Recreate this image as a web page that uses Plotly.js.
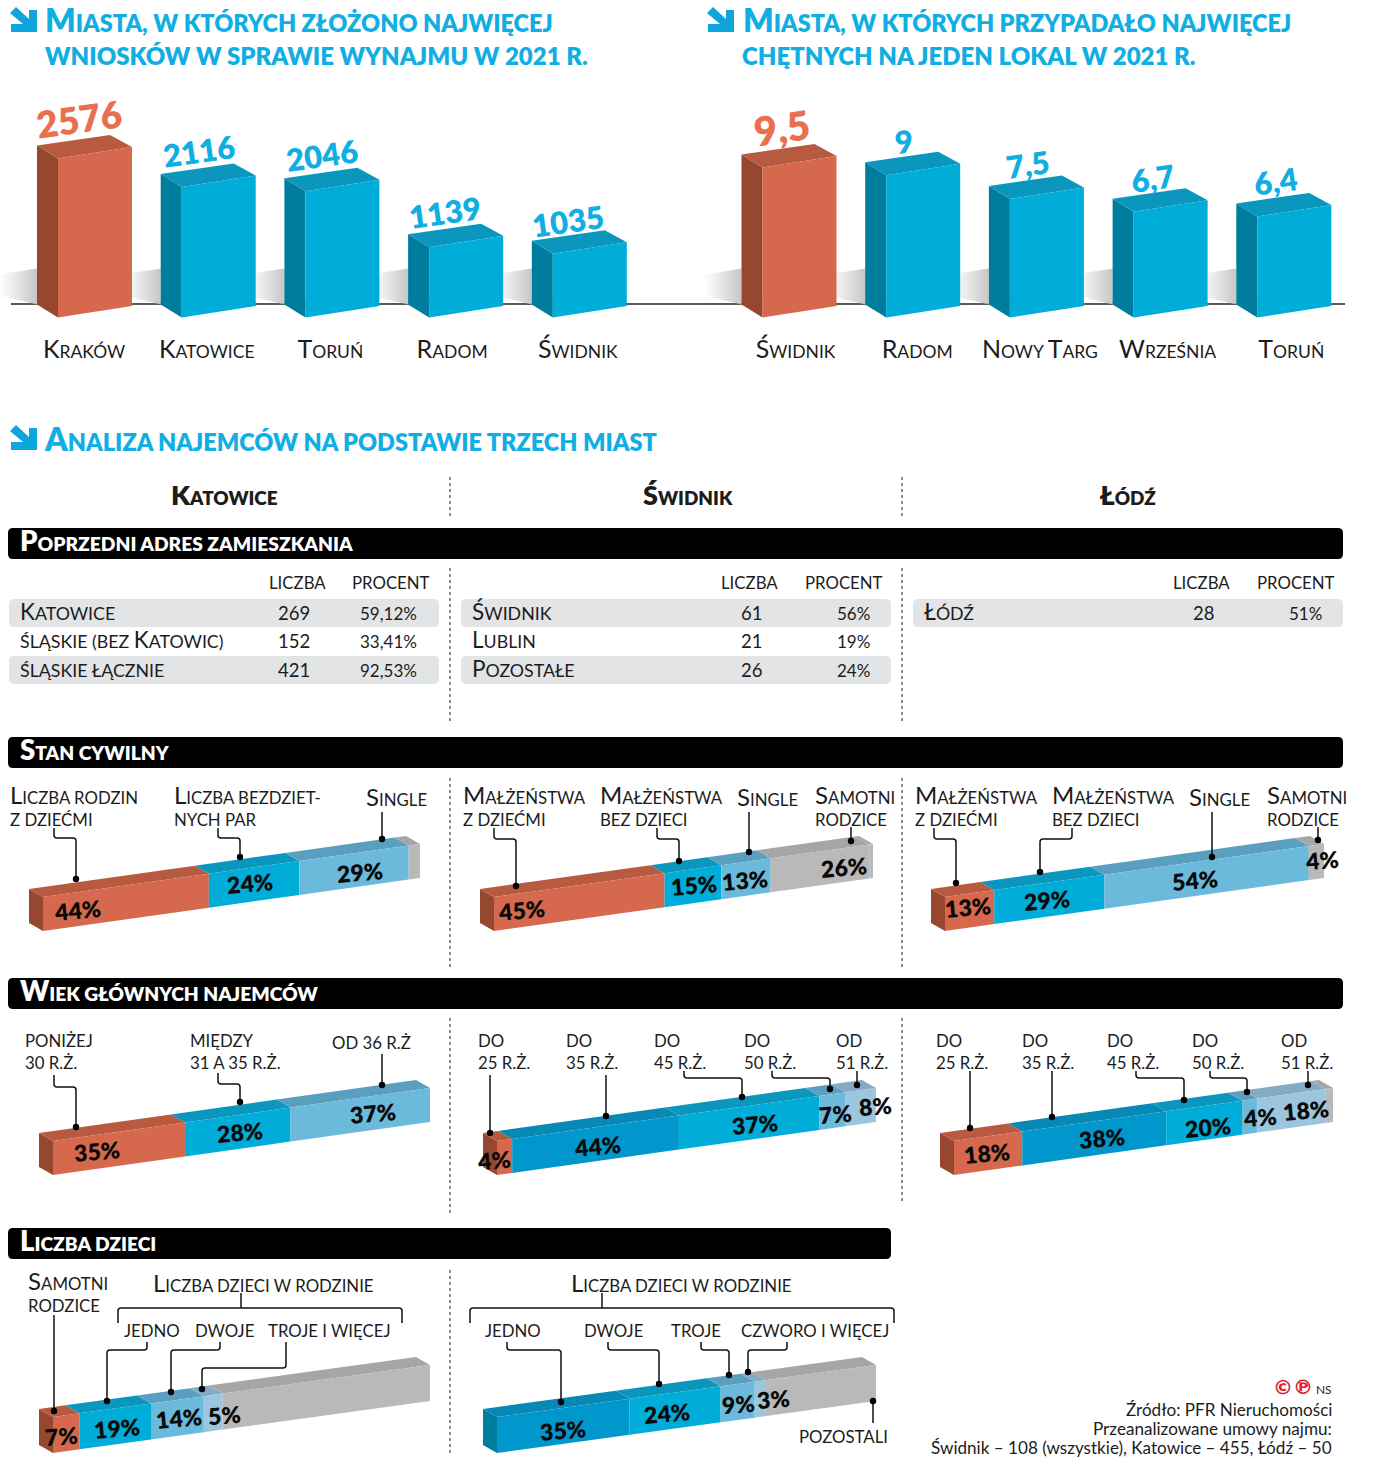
<!DOCTYPE html>
<html><head><meta charset="utf-8">
<script src="https://cdn.plot.ly/plotly-3.0.1.min.js"></script>
<style>html,body{margin:0;padding:0;background:#fff}</style></head>
<body><div id="chart" style="width:1400px;height:1475px"></div>
<script>
// ---------- DATA ----------
const appCities = ['Kraków','Katowice','Toruń','Radom','Świdnik'];
const appValues = [2576,2116,2046,1139,1035];
const appLabels = ['2576','2116','2046','1139','1035'];
const ratioCities = ['Świdnik','Radom','Nowy Targ','Września','Toruń'];
const ratioValues = [9.5,9,7.5,6.7,6.4];
const ratioLabels = ['9,5','9','7,5','6,7','6,4'];

const tableKatowice = [['Katowice','269','59,12%'],['śląskie (bez Katowic)','152','33,41%'],['śląskie łącznie','421','92,53%']];
const tableSwidnik = [['Świdnik','61','56%'],['Lublin','21','19%'],['Pozostałe','26','24%']];
const tableLodz = [['Łódź','28','51%']];

const statusKatowice = [44,24,29];
const statusSwidnik = [45,15,13,26];
const statusLodz = [13,29,54,4];
const ageKatowice = [35,28,37];
const ageSwidnik = [4,44,37,7,8];
const ageLodz = [18,38,20,4,18];
const kidsKatowice = [7,19,14,5];
const kidsSwidnik = [35,24,9,3];

// ---------- STYLE ----------
const F='Lato, "Noto Sans", sans-serif';
const C={O:['#d6694d','#b85a40','#96472f'],B:['#00acd8','#0a96bd','#007c9c'],D:['#0098cc','#0888b4','#007c9c'],
 L:['#6cbadb','#5b9fc0','#4d8fae'],P:['#9cc6de','#84aac4','#7ea0b8'],G:['#b9b9ba','#a6a6a8','#999']};
const TXT='#1c1c1c', CYAN='#10aee3', ORANGE='#e9704f';

// capitals stay full size, the rest is set as small capitals
function sc(t,s){return t.split('\n').map(line=>Array.from(line).map(c=>
  (c!==c.toLowerCase())?`<span style="font-size:${s}px">${c}</span>`:c.toUpperCase()).join('')).join('<br>');}

const traces=[], shapes=[], ann=[];
const layout={width:1400,height:1475,margin:{l:0,r:0,t:0,b:0,pad:0},paper_bgcolor:'#fff',plot_bgcolor:'rgba(0,0,0,0)',
 showlegend:false,hovermode:false,font:{family:F,color:TXT},
 xaxis:{domain:[0,1],range:[0,1400],visible:false,fixedrange:true},
 yaxis:{domain:[0,1],range:[1475,0],visible:false,fixedrange:true}};
let axN=1;
function newAxes(xa,ya){axN++;layout['xaxis'+axN]=Object.assign({anchor:'y'+axN,fixedrange:true,type:'linear'},xa);
 layout['yaxis'+axN]=Object.assign({anchor:'x'+axN,fixedrange:true,visible:false,type:'linear'},ya);return axN;}
function poly(n,xs,ys,color,extra){traces.push(Object.assign({type:'scatter',mode:'lines',x:xs.concat(xs[0]),y:ys.concat(ys[0]),
 xaxis:'x'+n,yaxis:'y'+n,fill:'toself',fillcolor:color,line:{width:0},hoverinfo:'skip',cliponaxis:false},extra||{}));}
function T(text,x,y,o){o=o||{};const s=o.s||18,caps=o.sc;
 // a larger capital grows the text box upwards: keep the baseline where it belongs
 const oneLine=text.indexOf('\n')<0, hasCap=text!==text.toLowerCase();
 const dy=(caps&&oneLine&&hasCap)?s*0.08:0;
 const base=o.base||+(s*0.7).toFixed(2);
 ann.push({xref:'x',yref:'y',x,y:y-dy,text:caps?sc(text,s):text,showarrow:false,xanchor:o.a||'left',yanchor:'middle',borderpad:0,
 textangle:o.rot||0,font:{family:o.family||F,size:caps?base:s,color:o.c||TXT,weight:o.w||400},align:o.a||'left'});}

// ---------- 3D BAR CHARTS ----------
function barChart(vals,labels,cats,o){
 const step=123.7,pxU=o.pxU,half=37/step,dep=21/step,peak=22/step;
 const lo=-0.77,hi=4.6,x0=Math.max(0,o.cx+lo*step),x1=o.cx+hi*step;
 const pxTop=100,pxBot=339,y0=317.5;
 const n=newAxes({domain:[x0/1400,x1/1400],range:[(x0-o.cx)/step,hi],showgrid:false,zeroline:false,showline:false,ticks:'',
   tickmode:'array',tickvals:cats.map((c,i)=>i+o.tick[i]/step),ticktext:cats.map(c=>sc(c,25)),
   tickfont:{family:F,size:17.5,color:TXT,weight:400}},
   {domain:[1-pxBot/1475,1-pxTop/1475],range:[(y0-pxBot)/pxU,(y0-pxTop)/pxU]});
 const px=p=>p/pxU;
 vals.forEach((v,i)=>{
  const bl=i-half-dep;
  poly(n,[bl-38/step,bl,bl,bl-38/step],[px(43),px(49),px(13),px(22)],'rgba(0,0,0,0)',
   {fillgradient:{type:'horizontal',colorscale:[[0,'rgba(205,205,205,0)'],[1,'rgba(195,195,195,0.95)']]}});
 });
 vals.forEach((v,i)=>{
  const c=i===0?C.O:C.B,l=i-half,r=i+half;
  poly(n,[l-dep,l,l,l-dep],[px(13),0,v,v+px(13)],c[2]);
  poly(n,[l-dep,l,r,r-peak],[v+px(13),v,v+px(11.5),v+px(23.5)],c[1]);
  poly(n,[l,r,r,l],[0,px(11.5),v+px(11.5),v],c[0]);
  ann.push({xref:'x'+n,yref:'y'+n,x:i-half+17/step,y:v,yshift:o.ys[i],xshift:o.xs[i],text:labels[i],showarrow:false,textangle:-8,
   font:{family:F,weight:800,size:i===0?o.big:o.small,color:i===0?ORANGE:CYAN},xanchor:'center',yanchor:'middle'});
 });
}
barChart(appValues,appLabels,appCities,{cx:95,pxU:0.0617,big:37,small:31,tick:[-11,-12,-12,-14,-12],ys:[40,36,36,35,33],xs:[4,0,0,-1,-2]});
barChart(ratioValues,ratioLabels,ratioCities,{cx:799.5,pxU:15.8,big:40,small:31,tick:[-4,-6,-7,-3,-3],ys:[39,34,35,34,35],xs:[2,1,1,2,1]});
shapes.push({type:'line',xref:'x',yref:'y',x0:11,x1:1345,y0:304,y1:304,line:{color:'#222',width:1.5},layer:'below'});

// ---------- STACKED SLANTED BARS ----------
function stack(vals,cols,g){
 const W=g.right-g.back-14,dx=14/W*100,total=g.rise+g.t+8;
 const n=newAxes({domain:[g.back/1400,g.right/1400],range:[-dx,100],visible:false},
   {domain:[1-(g.bottom+2)/1475,1-(g.bottom-total-2)/1475],range:[-2,total+2]});
 const f=p=>g.rise*p/100;
 const edges=[];let cum=0;vals.forEach((v,i)=>{edges.push([cum,cum+v,cols[i]]);cum+=v;});
 if(cum<100)edges.push([cum,100,cols[vals.length]||'G']);
 poly(n,[0,0,-dx,-dx],[0,g.t,g.t+8,8],C[edges[0][2]][2]);
 edges.forEach(([a,b,c])=>poly(n,[a,b,b-dx,a-dx],[f(a)+g.t,f(b)+g.t,f(b)+g.t+8,f(a)+g.t+8],C[c][1]));
 edges.forEach(([a,b,c])=>poly(n,[a,b,b,a],[f(a),f(b),f(b)+g.t,f(a)+g.t],C[c][0]));
}
const ST={rise:53,t:34,bottom:931}, AG={rise:53,t:34,bottom:1175}, KD={rise:52,t:36,bottom:1453};
stack(statusKatowice,['O','B','L','G'],Object.assign({back:29,right:420},ST));
stack(statusSwidnik,['O','B','L','G'],Object.assign({back:480,right:873},ST));
stack(statusLodz,['O','B','L','G'],Object.assign({back:931,right:1324},ST));
stack(ageKatowice,['O','B','L'],Object.assign({back:39,right:430},AG));
stack(ageSwidnik,['O','D','B','L','P'],Object.assign({back:483,right:876},AG));
stack(ageLodz,['O','D','B','L','P'],Object.assign({back:940,right:1333},AG));
stack(kidsKatowice,['O','B','L','P','G'],Object.assign({back:39,right:430},KD));
stack(kidsSwidnik,['D','B','L','P','G'],Object.assign({back:483,right:876},KD));

function pct(vals,pos){vals.forEach((v,i)=>T(v+'%',pos[i][0],pos[i][1],{a:'center',s:23,w:800,c:'#0a0a0a',rot:-5}));}
pct(statusKatowice,[[77,910],[250,883],[360,872]]);
pct(statusSwidnik,[[521,910],[694,885],[745,880],[844,867]]);
pct(statusLodz,[[968,907],[1047,900],[1195,880],[1322,860]]);
pct(ageKatowice,[[97,1151],[240,1132],[373,1113]]);
pct(ageSwidnik,[[494,1160],[597,1146],[755,1124],[835,1114],[875,1106]]);
pct(ageLodz,[[987,1153],[1102,1138],[1208,1127],[1260,1117],[1306,1110]]);
pct(kidsKatowice,[[61,1436],[117,1428],[179,1418],[224,1415]]);
pct(kidsSwidnik,[[563,1430],[667,1413],[738,1404],[773,1399]]);

// ---------- CHROME ----------
function arrow(x,y){shapes.push({type:'path',xref:'x',yref:'y',layer:'above',fillcolor:'#0ea5dc',line:{width:0},
 path:`M${x+27} ${y+2} L${x+27} ${y+24} L${x+1} ${y+24} L${x+1} ${y+16} L${x+13} ${y+16} L${x} ${y+5} L${x+6} ${y-1} L${x+19} ${y+11} L${x+19} ${y+2} Z`});}
arrow(10,8);arrow(707,8);arrow(10,426);
const TS={s:32,base:23.5,w:800,c:CYAN,sc:true}, TS2={s:32,base:24,w:800,c:CYAN,sc:true};
T('Miasta, w których złożono najwięcej',44,22,TS);
T('wniosków w sprawie wynajmu w 2021 r.',44,55,TS2);
T('Miasta, w których przypadało najwięcej',742,22,TS);
T('chętnych na jeden lokal w 2021 r.',741,55,TS2);
T('Analiza najemców na podstawie trzech miast',43,441,TS);
const HS={a:'center',s:27,w:800,sc:true};
T('Katowice',224,497,HS);T('Świdnik',688,497,HS);T('Łódź',1128,497,HS);

function rrect(x0,y0,x1,y1,r,color){shapes.push({type:'path',xref:'x',yref:'y',layer:'below',fillcolor:color,line:{width:0},
 path:`M${x0+r} ${y0} L${x1-r} ${y0} Q${x1} ${y0} ${x1} ${y0+r} L${x1} ${y1-r} Q${x1} ${y1} ${x1-r} ${y1} L${x0+r} ${y1} Q${x0} ${y1} ${x0} ${y1-r} L${x0} ${y0+r} Q${x0} ${y0} ${x0+r} ${y0} Z`});}
[['Poprzedni adres zamieszkania',528,1343],['Stan cywilny',737,1343],['Wiek głównych najemców',978,1343],['Liczba dzieci',1228,891]].forEach(([t,y,r])=>{
 rrect(8,y,r,y+31,5,'#000');T(t,19,y+15,{s:27.5,w:800,c:'#fff',sc:true});});

[[450,477,518],[902,477,518],[450,568,724],[902,568,724],[450,778,968],[902,778,968],[450,1018,1216],[902,1018,1202],[450,1270,1455]].forEach(([x,a,b])=>
 shapes.push({type:'line',xref:'x',yref:'y',x0:x,x1:x,y0:a,y1:b,layer:'below',line:{color:'#444',width:1.2,dash:'dot'}}));

function table(rows,o){
 T('liczba',o.hn,582,{a:'center',s:24,sc:true});T('procent',o.hp,582,{a:'center',s:24,sc:true});
 rows.forEach((r,i)=>{const y=[613,641,670][i];
  if(i%2===0)rrect(o.x0,y-14,o.x1,y+14,5,'#e3e4e5');
  T(r[0],o.x0+10,y,{s:22.5,base:17.8,sc:true});
  T(r[1],o.n,y,{a:'right',s:18.5});T(r[2],o.p,y,{a:'right',s:17});});
}
table(tableKatowice,{x0:9,x1:439,hn:297,hp:391,n:311,p:418});
table(tableSwidnik,{x0:461,x1:891,hn:749,hp:844,n:763,p:871});
table(tableLodz,{x0:913,x1:1343,hn:1201,hp:1296,n:1215,p:1323});

const L1=798,LM=804.5,A1=1042,AM=1051.5;
const captions=[
['Liczba rodzin\nz dziećmi',9,LM],['Liczba bezdziet-\nnych par',173,LM],['Single',365,L1],
['Małżeństwa\nz dziećmi',462,LM],['Małżeństwa\nbez dzieci',599,LM],['Single',736,L1],['Samotni\nrodzice',814,LM],
['Małżeństwa\nz dziećmi',914,LM],['Małżeństwa\nbez dzieci',1051,LM],['Single',1188,L1],['Samotni\nrodzice',1266,LM],
['poniżej\n30 r.ż.',24,AM],['między\n31 a 35 r.ż.',189,AM],['od 36 r.ż',331,A1],
['do\n25 r.ż.',477,AM],['do\n35 r.ż.',565,AM],['do\n45 r.ż.',653,AM],['do\n50 r.ż.',743,AM],['od\n51 r.ż.',835,AM],
['do\n25 r.ż.',935,AM],['do\n35 r.ż.',1021,AM],['do\n45 r.ż.',1106,AM],['do\n50 r.ż.',1191,AM],['od\n51 r.ż.',1280,AM],
['Samotni\nrodzice',27,1290.5],['Liczba dzieci w rodzinie',152,1284],['jedno',123,1330],['dwoje',194,1330],['troje i więcej',267,1330],
['Liczba dzieci w rodzinie',570,1284],['jedno',484,1330],['dwoje',583,1330],['troje',670,1330],['czworo i więcej',740,1330],['pozostali',798,1436]];
captions.forEach(([t,x,y])=>T(t,x,y,{s:24,sc:true}));

const leaders=[
[[54,828],[54,838],[76,838],[76,879]],[[218,828],[218,838],[240,838],[240,857]],[[382,812],[382,839]],
[[494,828],[494,839],[516,839],[516,886]],[[657,828],[657,839],[679,839],[679,861]],[[749,812],[749,852]],[[851,827],[851,841]],
[[934,828],[934,839],[956,839],[956,883]],[[1072,828],[1072,839],[1040,839],[1040,872]],[[1212,812],[1212,857]],[[1318,827],[1318,840]],
[[54,1075],[54,1087],[76,1087],[76,1127]],[[218,1073],[218,1084],[240,1084],[240,1102]],[[382,1054],[382,1085]],
[[490,1075],[490,1133]],[[606,1075],[606,1116]],[[684,1071],[684,1078],[742,1078],[742,1097]],[[772,1071],[772,1078],[830,1078],[830,1089]],[[857,1071],[857,1085]],
[[970,1071],[970,1128]],[[1052,1071],[1052,1117]],[[1136,1071],[1136,1078],[1184,1078],[1184,1100]],[[1210,1071],[1210,1078],[1247,1078],[1247,1092]],[[1308,1071],[1308,1085]],
[[54,1315],[54,1411]],[[147,1342],[147,1350],[107,1350],[107,1401]],[[220,1342],[220,1350],[171,1350],[171,1392]],[[286,1342],[286,1368],[202,1368],[202,1389]],
[[507,1342],[507,1350],[561,1350],[561,1402]],[[608,1342],[608,1350],[659,1350],[659,1384]],[[701,1342],[701,1350],[729,1350],[729,1375]],[[787,1342],[787,1350],[748,1350],[748,1372]],[[873,1423],[873,1401]]];
function roundPath(p,r){let d=`M${p[0][0]} ${p[0][1]}`;
 for(let i=1;i<p.length;i++){const [x,y]=p[i];
  if(i<p.length-1){const [a,b]=p[i-1],[c,e]=p[i+1];
   const ux=Math.sign(x-a),uy=Math.sign(y-b),vx=Math.sign(c-x),vy=Math.sign(e-y);
   d+=` L${x-ux*r} ${y-uy*r} Q${x} ${y} ${x+vx*r} ${y+vy*r}`;}
  else d+=` L${x} ${y}`;}
 return d;}
leaders.forEach(p=>{shapes.push({type:'path',xref:'x',yref:'y',layer:'above',path:roundPath(p,3),line:{color:'#111',width:1.5}});
 const [x,y]=p[p.length-1];shapes.push({type:'circle',xref:'x',yref:'y',layer:'above',x0:x-3.2,x1:x+3.2,y0:y-3.2,y1:y+3.2,fillcolor:'#000',line:{width:0}});});
[[118,402,241],[470,894,602]].forEach(([a,b,s])=>{
 shapes.push({type:'path',xref:'x',yref:'y',layer:'above',path:roundPath([[a,1323],[a,1308],[b,1308],[b,1323]],3),line:{color:'#111',width:1.5}});
 shapes.push({type:'line',xref:'x',yref:'y',layer:'above',x0:s,x1:s,y0:1293,y1:1308,line:{color:'#111',width:1.5}});});

T('©℗',1293,1387,{a:'center',s:20,w:700,c:'#e2202c',family:'"DejaVu Sans"'});
T('ns',1333,1389,{a:'right',s:17,sc:true});
T('Źródło: PFR Nieruchomości',1333,1409,{a:'right',s:17.1});
T('Przeanalizowane umowy najmu:',1333,1428,{a:'right',s:17.1});
T('Świdnik – 108 (wszystkie), Katowice – 455, Łódź – 50',1333,1447,{a:'right',s:17.1});

layout.shapes=shapes;layout.annotations=ann;
Plotly.newPlot('chart',traces,layout,{displayModeBar:false,staticPlot:true});
</script></body></html>
